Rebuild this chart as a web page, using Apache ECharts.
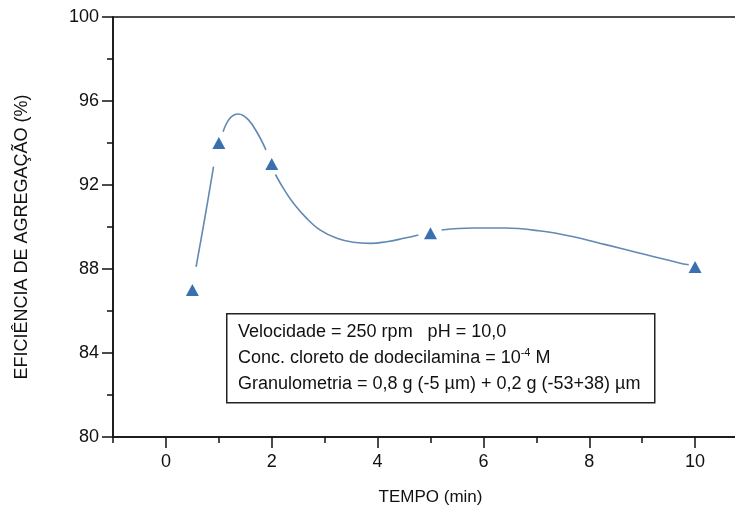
<!DOCTYPE html>
<html>
<head>
<meta charset="utf-8">
<script src="https://cdn.jsdelivr.net/npm/echarts@6/dist/echarts.min.js"></script>
<style>html,body{margin:0;padding:0;background:#fff;}#c{width:735px;height:512px;}</style>
</head>
<body>
<div id="c"></div>
<script>
// Measured points
const tempo = [0.5, 1, 2, 5, 10];
const eficiencia = [87.0, 94.0, 93.0, 89.7, 88.1];
// Fitted curve (segments separated by gaps around markers)
const curveX = [0.57, 0.74, 0.9, null, 1.08, 1.21, 1.37, 1.56, 1.75, 1.89, null, 2.07, 2.22, 2.41, 2.66, 2.91, 3.23, 3.54, 3.86, 4.17, 4.49, 4.77, null, 5.21, 5.8, 6.4, 7.05, 7.68, 8.31, 8.94, 9.7, 9.88];
const curveY = [88.1, 90.5, 92.87, null, 94.54, 95.18, 95.38, 95.1, 94.38, 93.67, null, 92.5, 91.84, 91.13, 90.41, 89.86, 89.46, 89.27, 89.22, 89.3, 89.46, 89.62, null, 89.86, 89.95, 89.95, 89.82, 89.55, 89.16, 88.76, 88.29, 88.2];
const xTicks = [0, 2, 4, 6, 8, 10];
const xMinorTicks = [-1, 1, 3, 5, 7, 9];
const yTicks = [80, 84, 88, 92, 96, 100];
const yMinorTicks = [82, 86, 90, 94, 98];
const xTitle = 'TEMPO (min)';
const yTitle = 'EFICIÊNCIA DE AGREGAÇÃO (%)';
const noteLines = [
  'Velocidade = 250 rpm   pH = 10,0',
  ['Conc. cloreto de dodecilamina = 10', '-4', ' M'],
  'Granulometria = 0,8 g (-5 µm) + 0,2 g (-53+38) µm'
];

const curveData = curveX.map((x, i) => x === null ? [null, null] : [x, curveY[i]]);
const pts = tempo.map((t, i) => [t, eficiencia[i]]);
const font = '"Liberation Sans", Arial, sans-serif';
const ink = '#111';

const chart = echarts.init(document.getElementById('c'));
chart.setOption({
  animation: false,
  backgroundColor: '#fff',
  grid: { left: 113, top: 17, width: 635, height: 420, show: true, borderColor: ink, borderWidth: 1.5, containLabel: false, outerBoundsMode: 'none' },
  xAxis: [
    {
      type: 'value', min: -1, max: 11,
      name: xTitle, nameLocation: 'middle', nameGap: 52,
      nameTextStyle: { fontFamily: font, fontSize: 17, color: ink },
      axisLine: { show: true, onZero: false, lineStyle: { color: ink, width: 1.5 } },
      axisTick: { show: true, length: 11, customValues: xTicks, lineStyle: { color: ink, width: 1.5 } },
      splitLine: { show: false },
      axisLabel: { fontFamily: font, fontSize: 18, color: ink, margin: 16, customValues: xTicks }
    },
    {
      type: 'value', min: -1, max: 11, position: 'bottom', gridIndex: 0,
      axisLine: { show: false, onZero: false },
      axisTick: { show: true, length: 6, customValues: xMinorTicks, lineStyle: { color: ink, width: 1.5 } },
      splitLine: { show: false },
      axisLabel: { show: false }
    }
  ],
  yAxis: [
    {
      type: 'value', min: 80, max: 100,
      name: yTitle, nameLocation: 'middle', nameGap: 82, nameRotate: 90,
      nameTextStyle: { fontFamily: font, fontSize: 18, color: ink, padding: [0, 20, 0, 0] },
      axisLine: { show: true, onZero: false, lineStyle: { color: ink, width: 1.5 } },
      axisTick: { show: true, length: 11, customValues: yTicks, lineStyle: { color: ink, width: 1.5 } },
      splitLine: { show: false },
      axisLabel: { fontFamily: font, fontSize: 18, color: ink, margin: 14, customValues: yTicks }
    },
    {
      type: 'value', min: 80, max: 100, position: 'left',
      axisLine: { show: false, onZero: false },
      axisTick: { show: true, length: 6, customValues: yMinorTicks, lineStyle: { color: ink, width: 1.5 } },
      splitLine: { show: false },
      axisLabel: { show: false }
    }
  ],
  series: [
    {
      type: 'line', data: curveData, smooth: 0.4, connectNulls: false,
      showSymbol: false, symbol: 'none',
      lineStyle: { color: '#6189b3', width: 1.6 }, z: 2
    },
    {
      type: 'scatter', data: pts, symbol: 'triangle', symbolSize: [13, 12],
      itemStyle: { color: '#0a4c9c' }, z: 3
    }
  ],
  graphic: [
    {
      type: 'rect', left: 226, top: 313, z: 10,
      shape: { width: 428, height: 89 },
      style: { fill: '#fff', stroke: '#222', lineWidth: 1.5 }
    },
    {
      type: 'text', left: 238, top: 319, z: 11,
      style: {
        text: noteLines[0] + '\n' + noteLines[1][0] + '{sup|' + noteLines[1][1] + '}' + noteLines[1][2] + '\n' + noteLines[2],
        font: '18px ' + font, fill: ink, lineHeight: 26,
        rich: { sup: { fontSize: 11, fontFamily: font, fill: ink, padding: [0, 0, 10, 0] } }
      }
    }
  ]
});
</script>
</body>
</html>
